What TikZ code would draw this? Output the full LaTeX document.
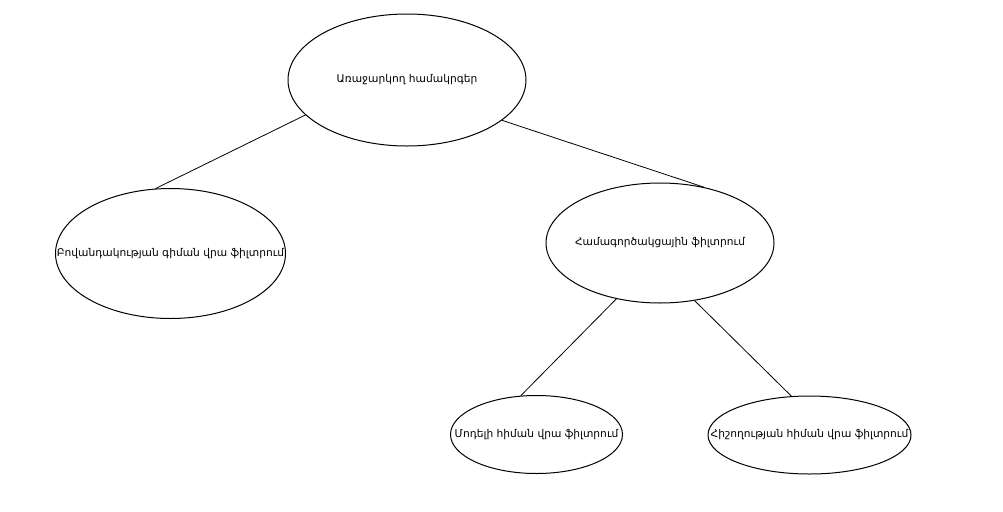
\documentclass[tikz,border=0pt]{standalone}
\usepackage{fontspec}
\newfontfamily\armfont{DejaVu Sans}
\usetikzlibrary{shapes.geometric}

\begin{document}
\begin{tikzpicture}[x=0.75pt, y=-0.75pt,
  sys/.style={draw, ellipse, line width=0.75pt, inner sep=0pt},
  txt/.style={font=\armfont\fontsize{8}{10}\selectfont},
  link/.style={line width=0.6pt}]
  \useasboundingbox (0,0) rectangle (1003,511);
  \node[sys, minimum width=178.5pt, minimum height=99pt,
    label={[txt]center:Առաջարկող համակրգեր}] (rec) at (407,80) {};
  \node[sys, minimum width=172.5pt, minimum height=97.5pt,
    label={[txt]center:Բովանդակության գիման վրա ֆիլտրում}] (content) at (170.5,253.5) {};
  \node[sys, minimum width=171pt, minimum height=90pt,
    label={[txt]center:Համագործակցային ֆիլտրում}] (collab) at (660,243) {};
  \node[sys, minimum width=129pt, minimum height=58.5pt,
    label={[txt]center:Մոդելի հիման վրա ֆիլտրում}] (model) at (536.5,434.5) {};
  \node[sys, minimum width=152.25pt, minimum height=58.5pt,
    label={[txt]center:Հիշողության հիման վրա ֆիլտրում}] (memory) at (809.5,435) {};
\draw[link] (rec.199) -- (content.103);
\draw[link] (rec.337) -- (collab.52);
\draw[link] (collab.232) -- (model.112);
\draw[link] (collab.301) -- (memory.115);
\end{tikzpicture}
\end{document}
